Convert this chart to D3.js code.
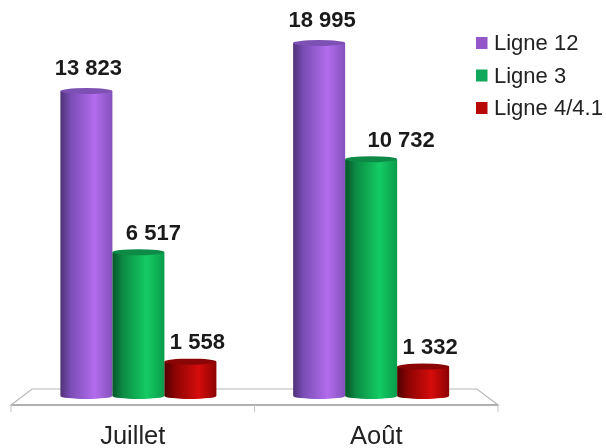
<!DOCTYPE html>
<html lang="fr">
<head>
<meta charset="utf-8">
<title>Lignes</title>
<script src="https://d3js.org/d3.v7.min.js"></script>
<style>
html, body { margin: 0; padding: 0; background: #fff; }
svg { display: block; font-family: "Liberation Sans", Arial, sans-serif; filter: blur(0.45px); }
.value { font-weight: bold; font-size: 22px; fill: #1a1a1a; text-anchor: middle; }
.legend text { font-size: 22px; fill: #222; }
.cat text { font-size: 25.5px; fill: #222; }
.floor { fill: #fff; stroke: #b8b8b8; stroke-width: 1.2; }
.front { stroke: #b0b0b0; stroke-width: 2; fill: none; }
.tick-mark { stroke: #c4c4c4; stroke-width: 1; }
</style>
</head>
<body>
<div id="container"></div>
<script>
var w = 606, h = 448;

var categories = ["Juillet", "Août"];
var series = ["Ligne 12", "Ligne 3", "Ligne 4/4.1"];
var ligne12 = [13823, 18995];
var ligne3 = [6517, 10732];
var ligne4 = [1558, 1332];
var values = [ligne12, ligne3, ligne4];
var axisMax = 16000; // the tall bar runs off the top of the original axis

// colour stops for the cylinders: dark edge, highlight, right edge, top
var shades = [
  ["#4f3278", "#7a4db5", "#b26cec", "#8452bd", "#7d50b4"],
  ["#07552b", "#0c8a44", "#14cb63", "#0a9c4c", "#0c8a46"],
  ["#4e0000", "#8a0404", "#d60c0c", "#8c0202", "#8a0606"]
];
var swatches = ["#9457c9", "#10a85a", "#b80808"];

var svg = d3.select("#container").append("svg")
  .attr("width", w).attr("height", h)
  .attr("viewBox", "0 0 " + w + " " + h);

var baseY = 396, ry = 3;

var y = d3.scaleLinear().domain([0, axisMax]).range([baseY, 43]).clamp(true);
var x0 = d3.scaleBand().domain(categories).range([22, 487.5]);
var x1 = d3.scaleBand().domain(series).range([38.4, 194.4]);
var xFront = d3.scaleBand().domain(categories).range([11, 498]);

var fmt = d3.formatLocale({decimal: ",", thousands: " ", grouping: [3], currency: ["", ""]}).format(",d");

var defs = svg.append("defs");
series.forEach(function(s, i) {
  var g = defs.append("linearGradient").attr("id", "cyl" + i);
  [0, 0.2, 0.66, 1].forEach(function(o, j) {
    g.append("stop").attr("offset", o).attr("stop-color", shades[i][j]);
  });
});

// floor
svg.append("path").attr("class", "floor")
  .attr("d", "M11,405L32,389L477,389L498,405Z");
svg.append("path").attr("class", "front").attr("d", "M11,405H498");
svg.selectAll(".tick-mark")
  .data([11, xFront(categories[1]), 498])
  .enter().append("line").attr("class", "tick-mark")
  .attr("x1", function(d) { return d; }).attr("x2", function(d) { return d; })
  .attr("y1", 405).attr("y2", 412);

// label nudges per series and month, the original has them placed by hand
var labelDx = [[2, 3], [15, 30], [7, 7]];
var labelDy = [16, 12, 13];

// bars
var rows = [];
categories.forEach(function(c, ci) {
  series.forEach(function(s, si) {
    rows.push({cat: c, ci: ci, ser: s, si: si, v: values[si][ci]});
  });
});

var bars = svg.selectAll(".bar").data(rows).enter().append("g").attr("class", "bar");
bars.append("path")
  .attr("d", function(d) {
    var l = x0(d.cat) + x1(d.ser), bw = x1.bandwidth();
    return "M" + l + "," + y(d.v) + "V" + baseY +
      "A" + bw / 2 + "," + ry + " 0 0 0 " + (l + bw) + "," + baseY +
      "V" + y(d.v) + "Z";
  })
  .attr("fill", function(d) { return "url(#cyl" + d.si + ")"; });
bars.append("ellipse")
  .attr("cx", function(d) { return x0(d.cat) + x1(d.ser) + x1.bandwidth() / 2; })
  .attr("cy", function(d) { return y(d.v); })
  .attr("rx", function() { return x1.bandwidth() / 2; })
  .attr("ry", ry)
  .attr("fill", function(d) { return shades[d.si][4]; });

svg.selectAll(".value").data(rows).enter().append("text")
  .attr("class", "value")
  .attr("x", function(d) { return x0(d.cat) + x1(d.ser) + x1.bandwidth() / 2 + labelDx[d.si][d.ci]; })
  .attr("y", function(d) { return y(d.v) - labelDy[d.si]; })
  .text(function(d) { return fmt(d.v); });

// category axis
var axis = d3.axisBottom(xFront).tickSize(0).tickPadding(0);
var gx = svg.append("g").attr("class", "cat").attr("transform", "translate(0,426)").call(axis);
gx.select(".domain").remove();
gx.selectAll("text").attr("font-size", null).attr("font-family", null).attr("dy", "0.71em");

// legend
var legendY = d3.scalePoint().domain(series).range([50, 115]);
var legend = svg.append("g").attr("class", "legend");
legend.selectAll("rect").data(series).enter().append("rect")
  .attr("x", 476).attr("width", 11.5)
  .attr("y", function(d) { return legendY(d) - 13; })
  .attr("height", 12)
  .attr("fill", function(d, i) { return swatches[i]; });
legend.selectAll("text").data(series).enter().append("text")
  .attr("x", 494)
  .attr("y", function(d) { return legendY(d); })
  .text(function(d) { return d; });
</script>
</body>
</html>
